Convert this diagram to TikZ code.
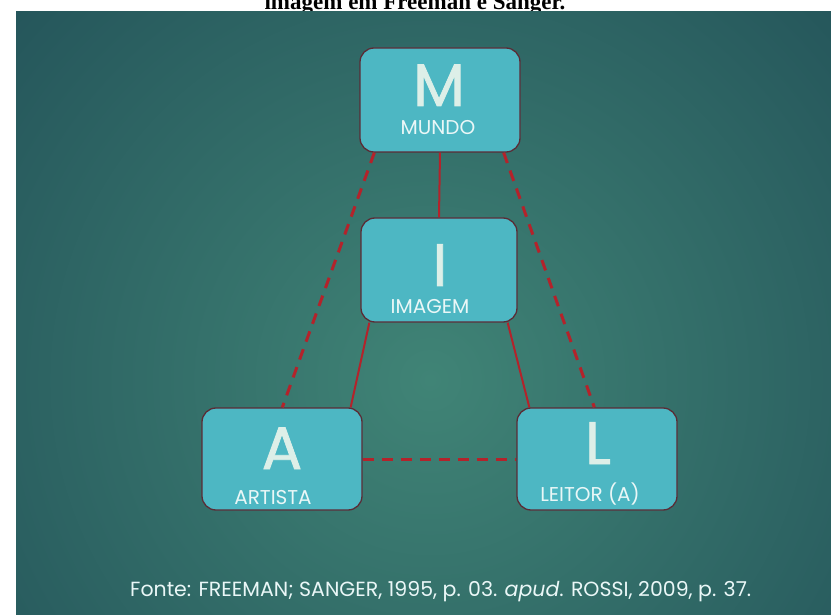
\documentclass[tikz,border=0pt]{standalone}
\usepackage{fontspec}
\setmainfont{Poppins}
\newfontfamily\letterfont[FakeBold=1.3]{Poppins}
\newfontfamily\titlefont{Liberation Serif}
\definecolor{bgdark}{HTML}{1B4551}
\definecolor{bglight}{HTML}{408476}
\definecolor{boxfill}{HTML}{4DB7C3}
\definecolor{boxline}{HTML}{5A2C36}
\definecolor{linkred}{HTML}{B3232B}
\definecolor{letter}{HTML}{DDEFE8}
\definecolor{label}{HTML}{EAF7F7}

\begin{document}
\begin{tikzpicture}[x=1pt,y=-1pt,
	box/.style={draw=boxline,line width=1.3pt,fill=boxfill,rounded corners=14pt,inner sep=0pt,minimum width=158pt,minimum height=102pt},
	bigletter/.style={text=letter,font=\letterfont\fontsize{60}{60}\selectfont,anchor=base,inner sep=0pt,text depth=0pt},
	boxlabel/.style={text=label,font=\fontsize{20}{20}\selectfont,anchor=base,inner sep=0pt},
	solidlink/.style={draw=linkred,line width=2pt},
	dashlink/.style={draw=linkred,line width=3pt,dash pattern=on 11pt off 8pt}]
	\useasboundingbox (0,0) rectangle (831,615);
	\fill[white] (0,0) rectangle (831,615);
	\node[anchor=base,inner sep=0pt,font=\titlefont\bfseries\fontsize{23}{23}\selectfont] (titulo) at (415,10) {imagem em Freeman e Sanger.};
	\begin{scope}
		\clip (16,12) rectangle (831,615);
		\shade[inner color=bglight,outer color=bgdark] (430,380) circle (760);
	\end{scope}
	\node[box,minimum width=160pt,minimum height=104pt] (mundo) at (440,100) {};
	\node[box,minimum width=156pt,minimum height=104pt] (imagem) at (439,270) {};
	\node[box,minimum width=160pt] (artista) at (282,459) {};
	\node[box,minimum width=160pt] (leitor) at (597,459) {};
	\node[bigletter] (mundoletra) at (439,106) {M};
	\node[boxlabel] (mundonome) at (438,135) {MUNDO};
	\node[bigletter] (imagemletra) at (440,286) {I};
	\node[boxlabel] (imagemnome) at (430,313) {IMAGEM};
	\node[bigletter] (artistaletra) at (282,469) {A};
	\node[boxlabel] (artistanome) at (273,504) {ARTISTA};
	\node[bigletter] (leitorletra) at (598,464) {L};
	\node[boxlabel] (leitornome) at (590,501) {LEITOR (A)};
	\draw[solidlink] (mundo.south) -- (imagem.north);
	\draw[solidlink] ([xshift=9pt]imagem.south west) -- ([xshift=-12pt]artista.north east);
	\draw[solidlink] ([xshift=-10pt]imagem.south east) -- ([xshift=13pt]leitor.north west);
	\draw[dashlink] ([xshift=15pt]mundo.south west) -- ([xshift=81pt]artista.north west);
	\draw[dashlink] ([xshift=-17pt]mundo.south east) -- ([xshift=78pt]leitor.north west);
	\draw[dashlink] (artista.east) -- (leitor.west);
	\node[anchor=base west,inner sep=0pt,text=label,font=\fontsize{20.5}{20.5}\selectfont] (fonte) at (130,596) {Fonte: FREEMAN; SANGER, 1995, p. 03. \textit{apud}. ROSSI, 2009, p. 37.};
\end{tikzpicture}
\end{document}
